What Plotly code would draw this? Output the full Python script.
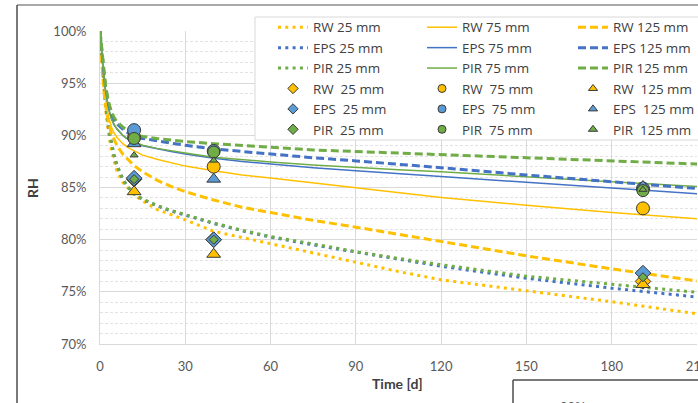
import plotly.graph_objects as go

# ---------------- data ----------------
t_model = [0, 0.5, 1, 1.5, 2, 3, 4, 5, 6, 8, 10, 12, 15, 20, 25, 30, 40, 50, 60, 75, 90, 105, 120, 150, 180, 210]

rw25 = [100, 97.8, 95.7, 93.9, 92.4, 90.2, 88.6, 87.4, 86.5, 85.5, 84.9, 84.3, 83.7, 82.9, 82.4, 81.9, 80.8, 80.2, 79.65, 78.7, 77.8, 76.95, 76.15, 75.1, 74.05, 72.9]
eps25 = [100, 98.0, 96.0, 94.3, 92.8, 90.7, 89.2, 88.0, 87.1, 85.8, 85.0, 84.4, 83.85, 83.25, 82.75, 82.35, 81.55, 80.85, 80.25, 79.5, 78.8, 78.1, 77.45, 76.3, 75.35, 74.5]
pir25 = [100, 98.0, 96.0, 94.3, 92.8, 90.7, 89.2, 88.0, 87.1, 85.8, 85.0, 84.4, 83.9, 83.3, 82.8, 82.4, 81.6, 80.9, 80.3, 79.6, 78.85, 78.2, 77.6, 76.5, 75.75, 74.95]
rw75 = [100, 98.0, 96.2, 94.7, 93.5, 91.8, 90.8, 90.2, 89.8, 89.2, 88.8, 88.5, 88.1, 87.7, 87.35, 87.05, 86.6, 86.2, 85.9, 85.45, 84.95, 84.5, 84.05, 83.3, 82.6, 82.0]
eps75 = [100, 98.3, 96.7, 95.3, 94.2, 92.6, 91.6, 91.0, 90.6, 90.0, 89.6, 89.3, 89.0, 88.7, 88.45, 88.2, 87.8, 87.5, 87.25, 86.9, 86.6, 86.3, 86.05, 85.5, 84.95, 84.4]
pir75 = [100, 98.3, 96.7, 95.3, 94.2, 92.6, 91.6, 91.0, 90.6, 90.0, 89.6, 89.35, 89.05, 88.75, 88.5, 88.3, 87.9, 87.65, 87.45, 87.15, 86.9, 86.7, 86.5, 86.0, 85.55, 85.1]
rw125 = [100, 97.5, 95.5, 94.0, 92.8, 91.2, 90.2, 89.6, 89.0, 88.2, 87.6, 87.1, 86.5, 85.7, 85.1, 84.6, 83.8, 83.1, 82.6, 81.85, 81.2, 80.5, 79.8, 78.45, 77.2, 76.05]
eps125 = [100, 98.4, 96.9, 95.6, 94.5, 93.0, 92.1, 91.5, 91.1, 90.6, 90.2, 89.9, 89.7, 89.45, 89.25, 89.05, 88.7, 88.45, 88.2, 87.85, 87.55, 87.25, 86.9, 86.2, 85.55, 84.9]
pir125 = [100, 98.5, 97.0, 95.8, 94.7, 93.2, 92.3, 91.7, 91.3, 90.8, 90.4, 90.1, 89.9, 89.7, 89.55, 89.4, 89.2, 89.0, 88.85, 88.6, 88.45, 88.3, 88.2, 87.85, 87.55, 87.25]

t_meas = [12, 40, 191]
m_rw25 = [85.8, 80.0, 76.0]
m_rw75 = [89.8, 87.0, 83.0]
m_rw125 = [84.6, 78.6, 75.7]
m_eps25 = [85.9, 80.0, 76.8]
m_eps75 = [90.5, 88.5, 84.9]
m_eps125 = [89.2, 85.8, 85.1]
m_pir25 = [85.8, 80.0, 76.4]
m_pir75 = [89.7, 88.4, 84.7]
m_pir125 = [88.1, 87.6, 84.8]

x_ticks = [0, 30, 60, 90, 120, 150, 180, 210]
y_ticks = [70, 75, 80, 85, 90, 95, 100]

# ---------------- styles ----------------
YEL = "#FFC000"
BLU = "#4472C4"
BLU_M = "#5B9BD5"
GRN = "#70AD47"
FONT = "Lato"
LFONT = "Open Sans"
DOT = "3px,4.3px"
DASH = "8px,4px"
OUTLINE = "#3a3a3a"

fig = go.Figure()

# legend column per thickness: legend (25 mm), legend2 (75 mm), legend3 (125 mm)
lines = [
    ("RW 25 mm", rw25, YEL, DOT, 3, "legend"),
    ("EPS 25 mm", eps25, BLU, DOT, 3, "legend"),
    ("PIR 25 mm", pir25, GRN, DOT, 3, "legend"),
    ("RW 75 mm", rw75, YEL, "solid", 1.5, "legend2"),
    ("EPS 75 mm", eps75, BLU, "solid", 1.5, "legend2"),
    ("PIR 75 mm", pir75, GRN, "solid", 1.5, "legend2"),
    ("RW 125 mm", rw125, YEL, DASH, 3, "legend3"),
    ("EPS 125 mm", eps125, BLU, DASH, 3, "legend3"),
    ("PIR 125 mm", pir125, GRN, DASH, 3, "legend3"),
]
for name, ys, col, dash, w, lg in lines:
    fig.add_trace(go.Scatter(x=t_model, y=ys, mode="lines", name=name, legend=lg,
                             line=dict(color=col, dash=dash, width=w)))

NB = "\u00a0"
marks = [
    ("RW" + NB + " 25 mm", m_rw25, YEL, "diamond", 12, "legend"),
    ("RW" + NB + " 75 mm", m_rw75, YEL, "circle", 13, "legend2"),
    ("RW" + NB + " 125 mm", m_rw125, YEL, "triangle-up", 12, "legend3"),
    ("EPS" + NB + " 25 mm", m_eps25, BLU_M, "diamond", 12, "legend"),
    ("EPS" + NB + " 75 mm", m_eps75, BLU_M, "circle", 13, "legend2"),
    ("EPS" + NB + " 125 mm", m_eps125, BLU_M, "triangle-up", 12, "legend3"),
    ("PIR" + NB + " 25 mm", m_pir25, GRN, "diamond", 7, "legend"),
    ("PIR" + NB + " 75 mm", m_pir75, GRN, "circle", 12, "legend2"),
    ("PIR" + NB + " 125 mm", m_pir125, GRN, "triangle-up", 7, "legend3"),
]
for name, ys, col, sym, sz, lg in marks:
    fig.add_trace(go.Scatter(x=t_meas, y=ys, mode="markers", name=name, showlegend=False,
                             marker=dict(color=col, symbol=sym, size=sz,
                                         line=dict(color=OUTLINE, width=1))))

# legend-only entries with the small symbols used in the legend box
rank = {"RW": 1004, "EP": 1005, "PI": 1006}
for name, ys, col, sym, sz, lg in marks:
    fig.add_trace(go.Scatter(x=[None], y=[None], mode="markers", name=name, legend=lg,
                             legendrank=rank[name[:2]], showlegend=True,
                             marker=dict(color=col, symbol=sym, size=8,
                                         line=dict(color=OUTLINE, width=1))))

# pixel helpers for decorative frame
L, R, T, B = 100, 1, 31, 59
W, H = 698, 403
PW, PH = W - L - R, H - T - B
def px(x):
    return (x - L) / PW
def py(y):
    return (H - B - y) / PH

frame = "#4d4d4d"
shapes = [
    dict(type="rect", xref="paper", yref="paper", x0=px(255), x1=px(720), y0=py(140), y1=py(17),
         line=dict(color="#d9d9d9", width=1), fillcolor="white", layer="above"),
    dict(type="line", xref="paper", yref="paper", x0=px(17), x1=px(710), y0=py(5), y1=py(5),
         line=dict(color="#8c8c8c", width=1.5)),
    dict(type="line", xref="paper", yref="paper", x0=px(17), x1=px(17), y0=py(5), y1=py(420),
         line=dict(color=frame, width=1.5)),
    dict(type="line", xref="paper", yref="paper", x0=px(513), x1=px(710), y0=py(380), y1=py(380),
         line=dict(color=frame, width=1.5)),
    dict(type="line", xref="paper", yref="paper", x0=px(513), x1=px(513), y0=py(380), y1=py(420),
         line=dict(color=frame, width=1.5)),
]

annotations = [
    dict(text="<b>RH</b>", xref="paper", yref="paper", x=px(32), y=py(188), showarrow=False,
         textangle=-90, font=dict(family=FONT, size=14, color="#404040"), xanchor="center", yanchor="middle"),
    dict(text="<b>Time [d]</b>", xref="paper", yref="paper", x=px(397), y=py(383), showarrow=False,
         font=dict(family=FONT, size=14, color="#404040"), xanchor="center", yanchor="middle"),
    dict(text="90%", xref="paper", yref="paper", x=px(573), y=py(407), showarrow=False,
         font=dict(family=FONT, size=13, color="#595959"), xanchor="center", yanchor="middle"),
]

def leg(xpix):
    return dict(orientation="v", x=px(xpix), y=py(12), xanchor="left", yanchor="top",
                bgcolor="rgba(0,0,0,0)", borderwidth=0, traceorder="normal",
                font=dict(family=LFONT, size=13.4, color="#404040"), itemclick=False,
                tracegroupgap=0)

fig.update_layout(
    width=W, height=H,
    margin=dict(l=L, r=R, t=T, b=B, autoexpand=False),
    paper_bgcolor="white", plot_bgcolor="white",
    font=dict(family=FONT, color="#595959"),
    shapes=shapes, annotations=annotations,
    showlegend=True,
    legend=leg(273), legend2=leg(422), legend3=leg(573),
    xaxis=dict(range=[0, 210], tickvals=x_ticks, ticktext=[str(v) for v in x_ticks],
               showgrid=True, gridcolor="#d9d9d9", gridwidth=1, zeroline=False,
               showline=True, linecolor="#d9d9d9", linewidth=1, ticks="",
               ticklabeloverflow="allow",
               tickfont=dict(family=FONT, size=13, color="#595959"), ticklabelstandoff=10),
    yaxis=dict(range=[70, 100], tickvals=y_ticks, ticktext=[f"{v}%" for v in y_ticks],
               showgrid=True, gridcolor="#d9d9d9", gridwidth=1, zeroline=False,
               showline=True, linecolor="#d9d9d9", linewidth=1, ticks="",
               minor=dict(dtick=1, showgrid=True, gridcolor="#e3e3e3", griddash="3px,2px", gridwidth=1),
               tickfont=dict(family=FONT, size=13, color="#595959"), ticklabelstandoff=10),
)

fig.write_html("out.html", config={"displayModeBar": False},
               post_script="document.body.style.margin='0px';")
